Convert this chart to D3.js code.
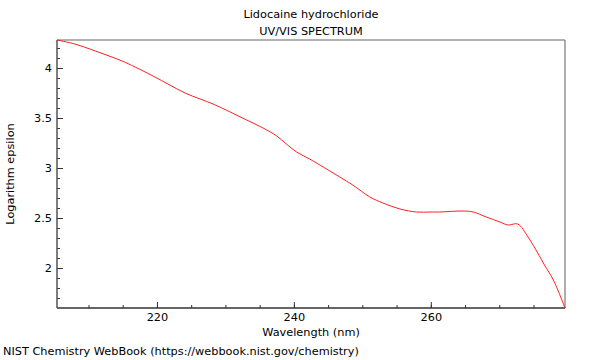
<!DOCTYPE html>
<html><head><meta charset="utf-8">
<script src="https://cdn.jsdelivr.net/npm/d3@7"></script>
<style>body{margin:0;background:#fff}svg{display:block}text{font-family:"DejaVu Sans",sans-serif;fill:#000}</style>
</head><body><svg id="c" width="600" height="360"></svg>
<script>
const titleLines = ["Lidocaine hydrochloride", "UV/VIS SPECTRUM"];
const xLabel = "Wavelength (nm)";
const yLabel = "Logarithm epsilon";
const sourceText = "NIST Chemistry WebBook (https://webbook.nist.gov/chemistry)";
const wavelengths = [205.4,208.0,211.0,214.9,216.8,219.7,221.6,224.1,226.3,228.2,230.7,233.1,235.5,237.5,238.9,240.4,242.3,243.8,246.7,248.6,251.1,253.0,255.5,257.9,259.9,261.3,264.7,266.2,268.1,270.1,271.3,272.7,274.2,275.7,276.6,277.9,279.6];
const logEps = [4.28,4.24,4.17,4.07,4.01,3.91,3.84,3.75,3.69,3.64,3.56,3.48,3.40,3.32,3.24,3.16,3.09,3.03,2.91,2.83,2.71,2.65,2.59,2.56,2.56,2.56,2.57,2.56,2.51,2.46,2.43,2.44,2.31,2.14,2.03,1.88,1.60];
const xTicks = [220, 240, 260];
const yTicks = [2, 2.5, 3, 3.5, 4];
const xDomain = [205.4, 279.6];
const yDomain = [1.6, 4.28];

const FS = 11.3;
const svg = d3.select("#c");
const m = {l:57, r:565, t:40, b:308};
const x = d3.scaleLinear().domain(xDomain).range([m.l, m.r]);
const y = d3.scaleLinear().domain(yDomain).range([m.b, m.t]);
const data = wavelengths.map((w,i)=>({w, v:logEps[i]}));

// frame top/right
svg.append("line").attr("x1",m.l).attr("x2",m.r).attr("y1",m.t).attr("y2",m.t).attr("stroke","#999").attr("stroke-width",1.5);
svg.append("line").attr("x1",m.r).attr("x2",m.r).attr("y1",m.t).attr("y2",m.b).attr("stroke","#777").attr("stroke-width",1.2);

// x axis
const xMinor = d3.range(210, 280, 5);
const gx = svg.append("g").attr("transform",`translate(0,${m.b})`);
gx.call(d3.axisBottom(x).tickValues(xMinor).tickSize(-3).tickFormat(""));
const gx2 = svg.append("g").attr("transform",`translate(0,${m.b})`);
gx2.call(d3.axisBottom(x).tickValues(xTicks).tickSize(-6).tickPadding(5).tickFormat(d3.format("d")));
[gx,gx2].forEach(g=>{g.select(".domain").attr("stroke","#333");g.selectAll(".tick line").attr("stroke","#333");g.selectAll("text").attr("font-size",FS).attr("font-family","DejaVu Sans");});

// y axis
const yMinor = d3.range(17, 43, 1).map(d=>d/10);
const gy = svg.append("g").attr("transform",`translate(${m.l},0)`);
gy.call(d3.axisLeft(y).tickValues(yMinor).tickSize(-3).tickFormat(""));
const gy2 = svg.append("g").attr("transform",`translate(${m.l},0)`);
gy2.call(d3.axisLeft(y).tickValues(yTicks).tickSize(-6).tickPadding(5).tickFormat(d=>String(d)));
[gy,gy2].forEach(g=>{g.select(".domain").attr("stroke","#555");g.selectAll(".tick line").attr("stroke","#333");g.selectAll("text").attr("font-size",FS).attr("font-family","DejaVu Sans");});
gx.select(".domain").attr("d",`M${m.l},0H${m.r}`);
gx2.select(".domain").attr("d",`M${m.l},0H${m.r}`);
gy.select(".domain").attr("d",`M0,${m.b}V${m.t}`);
gy2.select(".domain").attr("d",`M0,${m.b}V${m.t}`);

// curve
svg.append("path").datum(data)
  .attr("fill","none").attr("stroke","#ff2020").attr("stroke-width",1)
  .attr("d", d3.line().x(d=>x(d.w)).y(d=>y(d.v)).curve(d3.curveCatmullRom.alpha(0.5)));

// texts
const cx = (m.l + m.r) / 2;
svg.append("text").attr("x",cx).attr("y",18).attr("text-anchor","middle").attr("font-size",FS).text(titleLines[0]);
svg.append("text").attr("x",cx).attr("y",35).attr("text-anchor","middle").attr("font-size",FS).text(titleLines[1]);
svg.append("text").attr("x",cx).attr("y",336).attr("text-anchor","middle").attr("font-size",FS).text(xLabel);
svg.append("text").attr("transform","translate(14,174) rotate(-90)").attr("text-anchor","middle").attr("font-size",FS).text(yLabel);
svg.append("text").attr("x",3).attr("y",355).attr("font-size",FS).text(sourceText);
</script></body></html>
